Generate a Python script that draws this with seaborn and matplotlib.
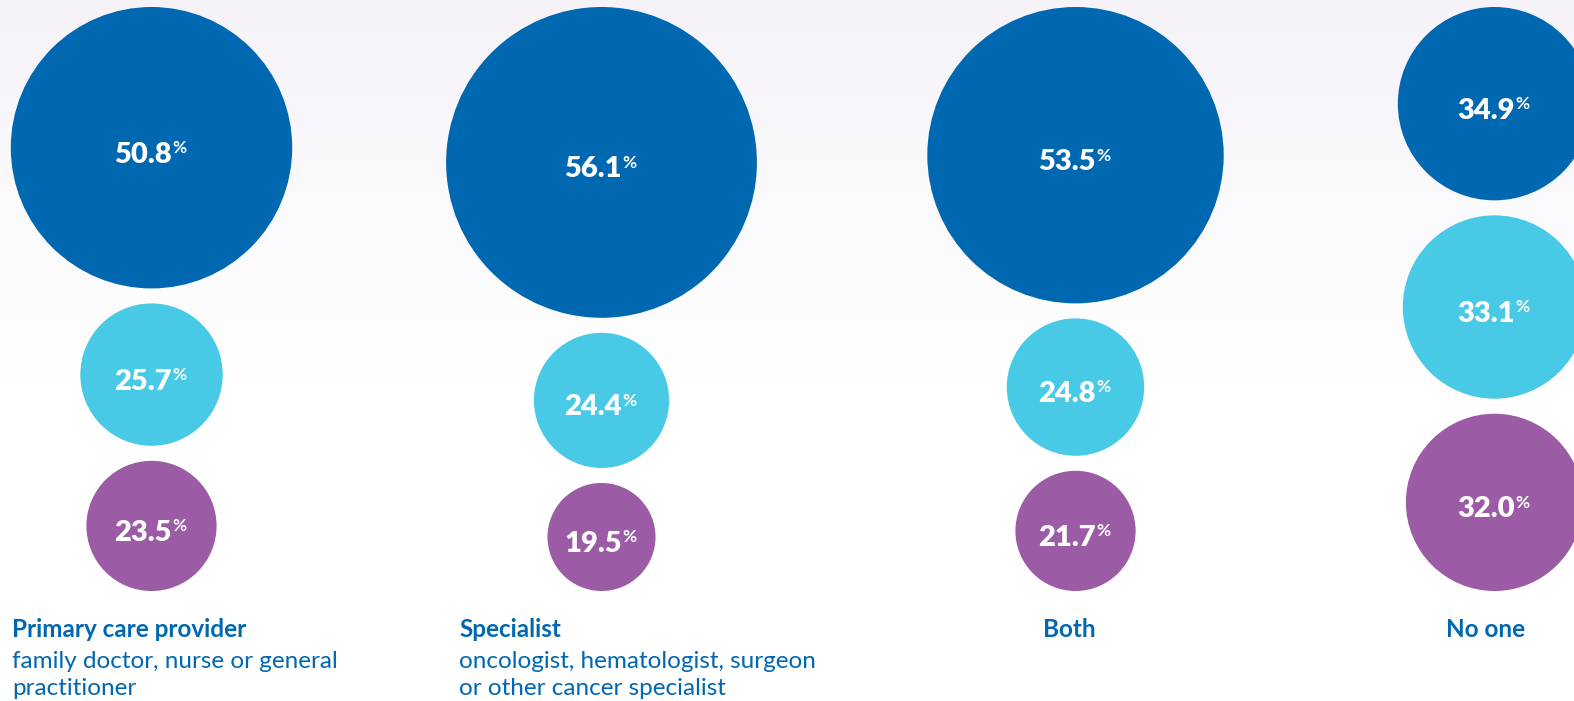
import numpy as np
import pandas as pd
import matplotlib
matplotlib.use("Agg")
import matplotlib.pyplot as plt
import seaborn as sns
from matplotlib.colors import to_rgb

# --- data -------------------------------------------------------------
groups = ["Primary care provider", "Specialist", "Both", "No one"]
descriptions = [
    ["family doctor, nurse or general", "practitioner"],
    ["oncologist, hematologist, surgeon", "or other cancer specialist"],
    [],
    [],
]
answers = ["top", "middle", "bottom"]
top_values = [50.8, 56.1, 53.5, 34.9]
middle_values = [25.7, 24.4, 24.8, 33.1]
bottom_values = [23.5, 19.5, 21.7, 32.0]

# --- styling / layout ---------------------------------------------------
W, H = 1574, 701
palette = {"top": "#0067B1", "middle": "#48C9E6", "bottom": "#9B5BA5"}
text_blue = "#0067B1"
col_x = [151.5, 601.5, 1075.5, 1494.5]
px_per_pct = 2.77          # circle radius in px per percentage point
top_edge, bottom_edge = 7, 591

sns.set_theme(style="white")
plt.rcParams["font.family"] = ["Lato", "DejaVu Sans"]

fig = plt.figure(figsize=(W / 100, H / 100), dpi=100)
ax = fig.add_axes([0, 0, 1, 1])

# soft lavender wash fading to white
top_rgb = np.array(to_rgb("#F5F3F8"))
t = np.clip(np.linspace(0, 1, H) / 0.55, 0, 1)[:, None]
grad = top_rgb * (1 - t) + np.ones(3) * t
ax.imshow(np.repeat(grad[:, None, :], 2, axis=1), extent=(0, W, H, 0),
          origin="upper", aspect="auto", zorder=0)

# circle positions: big circle on top, smallest at the bottom, middle one
# centred in the remaining gap
rows = []
for i, g in enumerate(groups):
    r_top = px_per_pct * top_values[i]
    r_mid = px_per_pct * middle_values[i]
    r_bot = px_per_pct * bottom_values[i]
    y_top = top_edge + r_top
    y_bot = bottom_edge - r_bot
    y_mid = ((y_top + r_top) + (y_bot - r_bot)) / 2
    for ans, v, y in zip(answers, [top_values[i], middle_values[i], bottom_values[i]],
                         [y_top, y_mid, y_bot]):
        rows.append({"group": g, "answer": ans, "value": v, "x": col_x[i], "y": y})
df = pd.DataFrame(rows)
df["value_sq"] = df["value"] ** 2

vmax = df["value"].max()
# marker area in pt^2 so that diameter (pt) = 2 * radius(px) * 0.72
smax = (2 * px_per_pct * vmax * 0.72) ** 2
sns.scatterplot(data=df, x="x", y="y", hue="answer", hue_order=answers,
                palette=palette, size="value_sq", sizes=(0, smax),
                size_norm=(0, vmax ** 2), linewidth=0, legend=False,
                ax=ax, zorder=2)

# value labels with a small superscript percent sign
pct_w = 17
for _, row in df.iterrows():
    num = ax.text(row["x"] - pct_w / 2, row["y"] + 15, f"{row['value']:.1f}",
                  ha="center", va="baseline", color="white", fontsize=21,
                  fontweight="heavy", zorder=3)
    ax.annotate("%", xy=(1, 1), xycoords=num, xytext=(0.4, 1.2),
                textcoords="offset points", ha="left", va="top",
                color="white", fontsize=12.5, fontweight="bold", zorder=3)

# group captions
title_kw = dict(color=text_blue, fontsize=17.5, fontweight="bold", va="baseline")
desc_kw = dict(color=text_blue, fontsize=17.5, va="baseline")
caption_x = [12, 459, 1069, 1486]
caption_ha = ["left", "left", "center", "center"]
for i, g in enumerate(groups):
    ax.text(caption_x[i], 637, g, ha=caption_ha[i], **title_kw)
    for j, line in enumerate(descriptions[i]):
        ax.text(caption_x[i], 668 + 27 * j, line, ha=caption_ha[i], **desc_kw)

ax.set_xlim(0, W)
ax.set_ylim(H, 0)
ax.set_axis_off()

fig.savefig("out.png", dpi=100)
